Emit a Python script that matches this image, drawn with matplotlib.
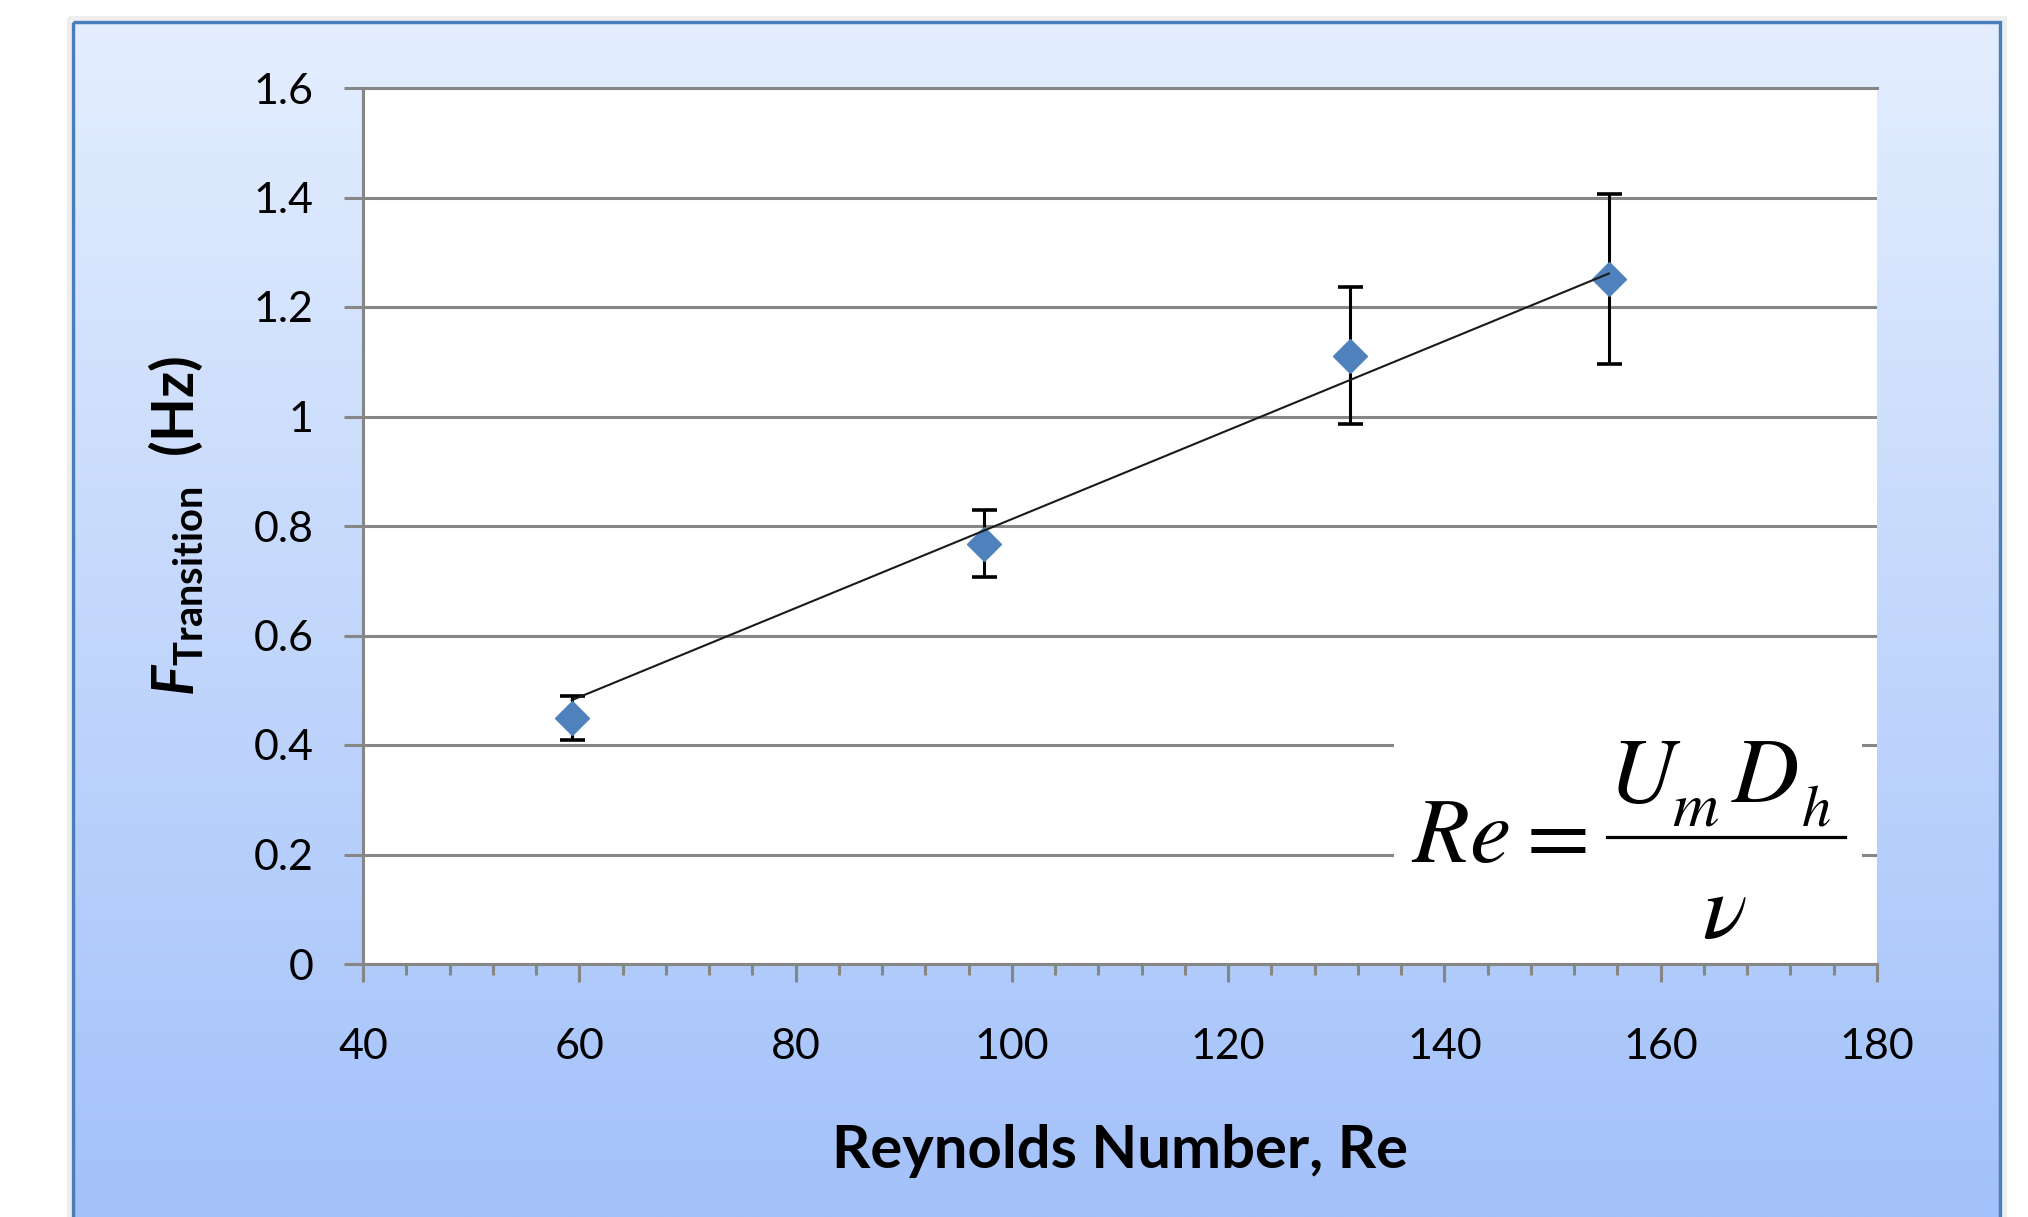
import matplotlib.pyplot as plt
from matplotlib.patches import Rectangle
from matplotlib.lines import Line2D
from matplotlib.ticker import MultipleLocator
from matplotlib.transforms import Affine2D
import numpy as np

# data
re_num = [59.3, 97.4, 131.3, 155.2]
f_trans = [0.449, 0.768, 1.111, 1.251]
f_err = [0.040, 0.061, 0.125, 0.155]

x_ticks = [40, 60, 80, 100, 120, 140, 160, 180]
y_ticks = [0, 0.2, 0.4, 0.6, 0.8, 1.0, 1.2, 1.4, 1.6]
y_tick_labels = ['0', '0.2', '0.4', '0.6', '0.8', '1', '1.2', '1.4', '1.6']

plt.rcParams['font.family'] = ['Lato', 'DejaVu Sans']
plt.rcParams['mathtext.fontset'] = 'custom'
plt.rcParams['mathtext.rm'] = 'Lato:bold'
plt.rcParams['mathtext.bf'] = 'Lato:bold'
plt.rcParams['mathtext.it'] = 'Lato:bold:italic'

W, H = 2028, 1217
fig = plt.figure(figsize=(W / 100, H / 100), dpi=100, facecolor='white')
# pixel coords measured from the top-left corner
pix = Affine2D().scale(1 / W, -1 / H).translate(0, 1) + fig.transFigure

# blue gradient panel behind the chart
bg = fig.add_axes([0, 0, 1, 1], zorder=-10)
bg.set_xlim(0, W)
bg.set_ylim(H, 0)
bg.axis('off')
top_col = np.array([0xe4, 0xee, 0xfe]) / 255
bot_col = np.array([0xa3, 0xc1, 0xfa]) / 255
t = np.linspace(0, 1, 256)[:, None]
grad = (top_col[None, :] * (1 - t) + bot_col[None, :] * t)[:, None, :]
bg.imshow(grad, extent=[73, 2000, H, 22], aspect='auto', interpolation='bilinear')
bg.add_patch(Rectangle((69, 18), 1936, 1300, fill=False, ec='#eeeeee', lw=3))
bg.add_patch(Rectangle((73, 22), 1927, 1300, fill=False, ec='#4a7ebb', lw=2.5))

ax = fig.add_axes([363 / W, (H - 964) / H, 1514 / W, 876 / H])
ax.set_facecolor('white')

grey = '#868686'
ax.set_xlim(40, 180)
ax.set_ylim(0, 1.6)
ax.set_xticks(x_ticks)
ax.set_yticks(y_ticks)
ax.set_yticklabels(y_tick_labels)
ax.xaxis.set_minor_locator(MultipleLocator(4))
ax.grid(axis='y', color=grey, lw=2.2)
ax.set_axisbelow(True)
for side in ['left', 'bottom', 'top']:
    ax.spines[side].set_color(grey)
    ax.spines[side].set_linewidth(2.2)
ax.spines['right'].set_visible(False)
ax.tick_params(axis='x', which='major', length=13, width=2.2, color=grey,
               labelsize=31, pad=33)
ax.tick_params(axis='x', which='minor', length=8, width=2.2, color=grey)
ax.tick_params(axis='y', which='major', length=13.5, width=2.2, color=grey,
               labelsize=31, pad=22)

# error bars, markers, then trendline through the origin on top
ax.errorbar(re_num, f_trans, yerr=f_err, fmt='none', ecolor='black',
            elinewidth=2.2, capsize=9, capthick=2.6, zorder=3)
ax.plot(re_num, f_trans, 'D', color='#4f81bd', ms=17, mec='#4f81bd', zorder=4)
x = np.array(re_num)
y = np.array(f_trans)
slope = np.sum(x * y) / np.sum(x * x)
xs = np.array([x.min(), x.max()])
ax.plot(xs, slope * xs, color='#1a1a1a', lw=1.5, zorder=5)

ax.set_xlabel('Reynolds Number, Re', fontsize=43, fontweight='bold')
ax.xaxis.label.set_va('center')
ax.xaxis.set_label_coords(0.5, (964 - 1151) / 876)
ax.set_ylabel(r'$\mathit{F}_{\mathrm{Transition}}$  (Hz)', fontsize=41,
              fontweight='bold')
ax.yaxis.label.set_va('center')
ax.yaxis.set_label_coords((176 - 363) / 1514, 0.5)

# Re = U_m D_h / nu, pasted in a white box over the grid
fig.add_artist(Rectangle((1394, 733), 468, 219, transform=pix,
                         fc='white', ec='none', zorder=2))
eq_parts = [(r'$Re$', 1411, 862, 67), (r'$=$', 1513, 862, 66),
            (r'$U$', 1608, 802, 67), (r'$m$', 1672, 825, 46),
            (r'$D$', 1731, 802, 67), (r'$h$', 1801, 825, 42),
            (r'$\nu$', 1702, 937, 67)]
for s, px, py, fs in eq_parts:
    fig.text(px, py, s, transform=pix, fontsize=fs, math_fontfamily='stix',
             ha='left', va='baseline', zorder=3)
fig.add_artist(Line2D([1607, 1845], [837, 837], transform=pix,
                      color='black', lw=2.3, zorder=3))

fig.savefig('out.png', dpi=100, facecolor='white')
